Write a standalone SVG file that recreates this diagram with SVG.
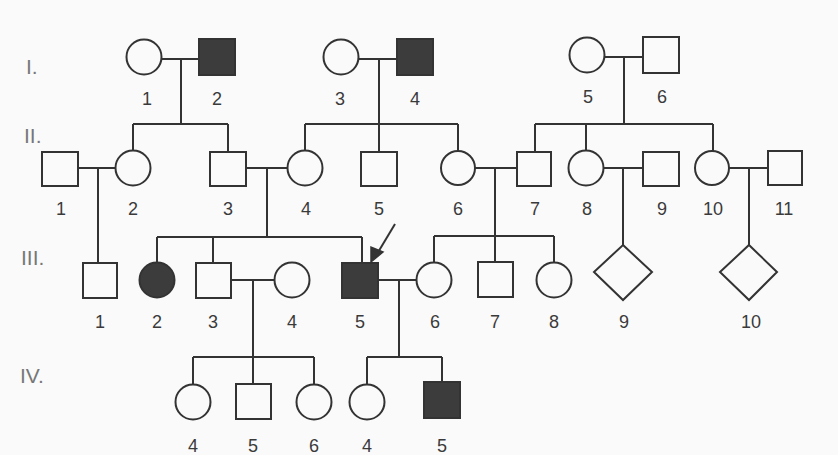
<svg xmlns="http://www.w3.org/2000/svg" width="838" height="455" viewBox="0 0 838 455">
<style>
.s{fill:#fafafa;stroke:#333;stroke-width:2}
.a{fill:#3c3c3c;stroke:#333;stroke-width:2}
.c{fill:none;stroke:#333;stroke-width:2}
.n{font-family:"Liberation Sans",Arial,sans-serif;font-size:18px;fill:#3a3a3a;text-anchor:middle}
.g{font-family:"Liberation Sans",Arial,sans-serif;font-size:21px;fill:#777}
</style>
<rect width="838" height="455" fill="#fafafa"/>
<g id="gen-labels">
<text class="g" x="26" y="74">I.</text>
<text class="g" x="24" y="143">II.</text>
<text class="g" x="21" y="265">III.</text>
<text class="g" x="20" y="383">IV.</text>
</g>
<g id="connectors">
<path class="c" d="M162 59H199M181 59V124M133 124H228M133 124V151M228 124V152"/>
<path class="c" d="M359 59H397M379 59V124M305 124H458M305 124V151M379 124V152M458 124V151"/>
<path class="c" d="M605 57H643M624 57V124M535 124H713M535 124V152M586 124V151M713 124V151"/>
<path class="c" d="M78 168H116M98 168V263"/>
<path class="c" d="M246 168H287M267 168V237M157 237H362M157 237V263M213 237V263M362 237V263"/>
<path class="c" d="M475 168H517M495 168V236M434 236H554M434 236V262M495 236V262M554 236V262"/>
<path class="c" d="M603 168H643M623 168V245"/>
<path class="c" d="M729 168H768M749 168V245"/>
<path class="c" d="M231 280H275M253 280V357M193 357H314M193 357V384M253 357V384M314 357V384"/>
<path class="c" d="M378 280H417M399 280V357M367 357H442M367 357V384M442 357V382"/>
<path class="c" d="M395 224L377 254"/>
<path d="M371 262L371 247L383 252Z" fill="#333" stroke="#333" stroke-width="1.5"/>
</g>
<g id="I-1"><circle class="s" cx="144" cy="57" r="17.5"/><text class="n" x="147" y="105">1</text></g>
<g id="I-2"><rect class="a" x="199" y="39" width="36" height="36"/><text class="n" x="217" y="105">2</text></g>
<g id="I-3"><circle class="s" cx="341" cy="57" r="17.5"/><text class="n" x="340" y="105">3</text></g>
<g id="I-4"><rect class="a" x="397" y="39" width="36" height="36"/><text class="n" x="415" y="105">4</text></g>
<g id="I-5"><circle class="s" cx="587" cy="55" r="17.5"/><text class="n" x="588" y="103">5</text></g>
<g id="I-6"><rect class="s" x="643" y="37" width="36" height="36"/><text class="n" x="662" y="103">6</text></g>
<g id="II-1"><rect class="s" x="42" y="152" width="36" height="34"/><text class="n" x="61" y="215">1</text></g>
<g id="II-2"><circle class="s" cx="133" cy="168" r="17.5"/><text class="n" x="133" y="215">2</text></g>
<g id="II-3"><rect class="s" x="210" y="152" width="36" height="34"/><text class="n" x="228" y="215">3</text></g>
<g id="II-4"><circle class="s" cx="305" cy="168" r="17.5"/><text class="n" x="306" y="215">4</text></g>
<g id="II-5"><rect class="s" x="361" y="152" width="36" height="34"/><text class="n" x="379" y="215">5</text></g>
<g id="II-6"><circle class="s" cx="458" cy="168" r="17"/><text class="n" x="458" y="215">6</text></g>
<g id="II-7"><rect class="s" x="517" y="152" width="34" height="34"/><text class="n" x="535" y="215">7</text></g>
<g id="II-8"><circle class="s" cx="586" cy="168" r="17.5"/><text class="n" x="587" y="215">8</text></g>
<g id="II-9"><rect class="s" x="643" y="152" width="36" height="34"/><text class="n" x="662" y="215">9</text></g>
<g id="II-10"><circle class="s" cx="712" cy="168" r="17"/><text class="n" x="713" y="215">10</text></g>
<g id="II-11"><rect class="s" x="768" y="151" width="34" height="34"/><text class="n" x="784" y="215">11</text></g>
<g id="III-1"><rect class="s" x="83" y="263" width="34" height="35"/><text class="n" x="100" y="328">1</text></g>
<g id="III-2"><circle class="a" cx="157" cy="280" r="17.5"/><text class="n" x="157" y="328">2</text></g>
<g id="III-3"><rect class="s" x="196" y="263" width="35" height="35"/><text class="n" x="213" y="328">3</text></g>
<g id="III-4"><circle class="s" cx="292" cy="280" r="17.5"/><text class="n" x="292" y="328">4</text></g>
<g id="III-5"><rect class="a" x="342" y="263" width="36" height="35"/><text class="n" x="360" y="328">5</text></g>
<g id="III-6"><circle class="s" cx="434" cy="280" r="17.5"/><text class="n" x="435" y="328">6</text></g>
<g id="III-7"><rect class="s" x="478" y="262" width="35" height="35"/><text class="n" x="495" y="328">7</text></g>
<g id="III-8"><circle class="s" cx="554" cy="280" r="17.5"/><text class="n" x="554" y="328">8</text></g>
<g id="III-9"><path class="s" d="M623 245L652 272L623 300L594 272Z"/><text class="n" x="624" y="328">9</text></g>
<g id="III-10"><path class="s" d="M749 245L777 272L749 300L720 272Z"/><text class="n" x="751" y="328">10</text></g>
<g id="IV-4a"><circle class="s" cx="193" cy="402" r="17.5"/><text class="n" x="193" y="452">4</text></g>
<g id="IV-5a"><rect class="s" x="236" y="384" width="35" height="35"/><text class="n" x="253" y="452">5</text></g>
<g id="IV-6"><circle class="s" cx="314" cy="402" r="17.5"/><text class="n" x="314" y="452">6</text></g>
<g id="IV-4b"><circle class="s" cx="367" cy="402" r="17.5"/><text class="n" x="367" y="452">4</text></g>
<g id="IV-5b"><rect class="a" x="424" y="382" width="36" height="36"/><text class="n" x="442" y="452">5</text></g>
</svg>
